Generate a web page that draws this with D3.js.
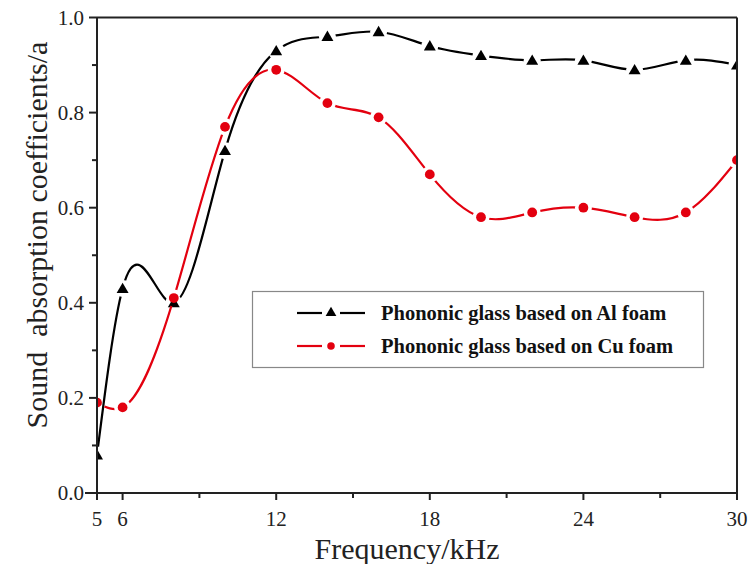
<!DOCTYPE html>
<html>
<head>
<meta charset="utf-8">
<script src="https://cdn.jsdelivr.net/npm/d3@7"></script>
<style>
body { margin: 0; background: #fff; }
svg text { font-family: "Liberation Serif", "Times New Roman", serif; }
</style>
</head>
<body>
<div id="chart"></div>
<script>
var width = 750;
var height = 564;

// data
var freqs = [5, 6, 8, 10, 12, 14, 16, 18, 20, 22, 24, 26, 28, 30];
var alFoam = [0.08, 0.43, 0.40, 0.72, 0.93, 0.96, 0.97, 0.94, 0.92, 0.91, 0.91, 0.89, 0.91, 0.90];
var cuFoam = [0.19, 0.18, 0.41, 0.77, 0.89, 0.82, 0.79, 0.67, 0.58, 0.59, 0.60, 0.58, 0.59, 0.70];
var xTicks = [5, 6, 12, 18, 24, 30];
var xMinor = [9, 15, 21, 27];
var yTicks = [0, 0.2, 0.4, 0.6, 0.8, 1.0];
var yMinor = [0.1, 0.3, 0.5, 0.7, 0.9];
var seriesNames = ["Phononic glass based on Al foam", "Phononic glass based on Cu foam"];

// plot box (window.top is reserved, so no plain "top")
var pL = 97, pR = 737, pT = 17.5, pB = 493;

var x = d3.scaleLinear().domain([5, 30]).range([pL, pR]);
var y = d3.scaleLinear().domain([0, 1]).range([pB, pT]);

// natural cubic spline in x (like Origin's spline connect), as a d3 curve
function curveSplineX(context) {
    var xs, ys;
    return {
        areaStart: function() {},
        areaEnd: function() {},
        lineStart: function() { xs = []; ys = []; },
        point: function(px, py) { xs.push(+px); ys.push(+py); },
        lineEnd: function() {
            var n = xs.length;
            if (!n) return;
            context.moveTo(xs[0], ys[0]);
            if (n < 3) { if (n == 2) context.lineTo(xs[1], ys[1]); return; }
            var h = [], i;
            for (i = 0; i < n - 1; i++) h.push(xs[i + 1] - xs[i]);
            // tridiagonal solve for second derivatives, M0 = Mn = 0
            var a = [], b = [], c = [], r = [];
            for (i = 1; i < n - 1; i++) {
                a.push(h[i - 1]);
                b.push(2 * (h[i - 1] + h[i]));
                c.push(h[i]);
                r.push(6 * ((ys[i + 1] - ys[i]) / h[i] - (ys[i] - ys[i - 1]) / h[i - 1]));
            }
            var m = r.length;
            for (i = 1; i < m; i++) {
                var w = a[i] / b[i - 1];
                b[i] -= w * c[i - 1];
                r[i] -= w * r[i - 1];
            }
            var M = new Array(n).fill(0);
            M[m] = r[m - 1] / b[m - 1];
            for (i = m - 2; i >= 0; i--) M[i + 1] = (r[i] - c[i] * M[i + 2]) / b[i];
            for (i = 0; i < n - 1; i++) {
                var s = (ys[i + 1] - ys[i]) / h[i];
                var d0 = s - h[i] * (2 * M[i] + M[i + 1]) / 6;
                var d1 = s + h[i] * (M[i] + 2 * M[i + 1]) / 6;
                context.bezierCurveTo(
                    xs[i] + h[i] / 3, ys[i] + d0 * h[i] / 3,
                    xs[i + 1] - h[i] / 3, ys[i + 1] - d1 * h[i] / 3,
                    xs[i + 1], ys[i + 1]);
            }
        }
    };
}

var svg = d3.select("#chart").append("svg").attr("width", width).attr("height", height);
var defs = svg.append("defs");

defs.append("clipPath").attr("id", "plotClip")
    .append("rect").attr("x", pL).attr("y", pT).attr("width", pR - pL).attr("height", pB - pT);

var series = [
    { name: seriesNames[0], values: alFoam, color: "#000", shape: "triangle" },
    { name: seriesNames[1], values: cuFoam, color: "#e3000f", shape: "circle" }
];

function markerPath(shape, size) {
    if (shape == "triangle") return d3.symbol().type(d3.symbolTriangle).size(size || 62)();
    return d3.symbol().type(d3.symbolCircle).size(size || 75)();
}

var line = d3.line()
    .x(function(d) { return x(d.f); })
    .y(function(d) { return y(d.v); })
    .curve(curveSplineX);

var plot = svg.append("g").attr("clip-path", "url(#plotClip)");

series.forEach(function(s, si) {
    var pts = freqs.map(function(f, i) { return { f: f, v: s.values[i] }; });

    // gaps in the line around markers
    var mask = defs.append("mask").attr("id", "gap" + si).attr("maskUnits", "userSpaceOnUse")
        .attr("x", 0).attr("y", 0).attr("width", width).attr("height", height);
    mask.append("rect").attr("width", width).attr("height", height).attr("fill", "#fff");
    mask.selectAll("circle").data(pts).enter().append("circle")
        .attr("cx", function(d) { return x(d.f); })
        .attr("cy", function(d) { return y(d.v); })
        .attr("r", 8.5)
        .attr("fill", "#000");

    plot.append("path")
        .datum(pts)
        .attr("d", line)
        .attr("fill", "none")
        .attr("stroke", s.color)
        .attr("stroke-width", 2.2)
        .attr("mask", "url(#gap" + si + ")");

    plot.selectAll(".m" + si).data(pts).enter().append("path")
        .attr("class", "m" + si)
        .attr("d", markerPath(s.shape))
        .attr("transform", function(d) { return "translate(" + x(d.f) + "," + (y(d.v) + (s.shape == "triangle" ? 1 : 0)) + ")"; })
        .attr("fill", s.color);
});

// frame
svg.append("line").attr("x1", pL).attr("x2", pR).attr("y1", pT).attr("y2", pT)
    .attr("stroke", "#222").attr("stroke-width", 2);
svg.append("line").attr("x1", pR).attr("x2", pR).attr("y1", pT).attr("y2", pB)
    .attr("stroke", "#222").attr("stroke-width", 2);

// x axis
var xAxis = svg.append("g").attr("transform", "translate(0," + pB + ")");
xAxis.append("line").attr("x1", pL - 12).attr("x2", pR + 1).attr("stroke", "#222").attr("stroke-width", 2);
xAxis.selectAll(".xt").data(xTicks).enter().append("line")
    .attr("x1", function(d) { return x(d); }).attr("x2", function(d) { return x(d); })
    .attr("y1", 0).attr("y2", 7).attr("stroke", "#222").attr("stroke-width", 2);
xAxis.selectAll(".xm").data(xMinor).enter().append("line")
    .attr("x1", function(d) { return x(d); }).attr("x2", function(d) { return x(d); })
    .attr("y1", 0).attr("y2", 5).attr("stroke", "#222").attr("stroke-width", 2);
xAxis.selectAll("text").data(xTicks).enter().append("text")
    .attr("x", function(d) { return x(d); })
    .attr("y", 33)
    .attr("text-anchor", "middle")
    .attr("font-size", 21)
    .attr("fill", "#222")
    .text(function(d) { return d; });

// y axis
var yAxis = svg.append("g").attr("transform", "translate(" + pL + ",0)");
yAxis.append("line").attr("y1", pT).attr("y2", pB).attr("stroke", "#222").attr("stroke-width", 2);
yAxis.selectAll(".yt").data(yTicks).enter().append("line")
    .attr("y1", function(d) { return y(d); }).attr("y2", function(d) { return y(d); })
    .attr("x1", -8).attr("x2", 0).attr("stroke", "#222").attr("stroke-width", 2);
yAxis.selectAll(".ym").data(yMinor).enter().append("line")
    .attr("y1", function(d) { return y(d); }).attr("y2", function(d) { return y(d); })
    .attr("x1", -5).attr("x2", 0).attr("stroke", "#222").attr("stroke-width", 2);
yAxis.selectAll("text").data(yTicks).enter().append("text")
    .attr("x", -13)
    .attr("y", function(d) { return y(d); })
    .attr("dy", "0.35em")
    .attr("text-anchor", "end")
    .attr("font-size", 21)
    .attr("fill", "#222")
    .text(function(d) { return d3.format(".1f")(d); });

// axis titles
svg.append("text")
    .attr("x", 407)
    .attr("y", 559)
    .attr("text-anchor", "middle")
    .attr("font-size", 30)
    .attr("fill", "#222")
    .text("Frequency/kHz");

svg.append("text")
    .attr("transform", "translate(47,235) rotate(-90)")
    .attr("text-anchor", "middle")
    .attr("font-size", 30)
    .attr("fill", "#222")
    .attr("xml:space", "preserve")
    .style("white-space", "pre")
    .text("Sound  absorption coefficients/a");

// legend
var legend = svg.append("g");
legend.append("rect")
    .attr("x", 252.5).attr("y", 291.5).attr("width", 451).attr("height", 76)
    .attr("fill", "#fff").attr("stroke", "#888").attr("stroke-width", 1.2);

series.forEach(function(s, i) {
    var ly = 313 + i * 33;
    legend.append("line").attr("x1", 297).attr("x2", 322).attr("y1", ly).attr("y2", ly)
        .attr("stroke", s.color).attr("stroke-width", 2.2);
    legend.append("line").attr("x1", 340).attr("x2", 365).attr("y1", ly).attr("y2", ly)
        .attr("stroke", s.color).attr("stroke-width", 2.2);
    legend.append("path")
        .attr("d", markerPath(s.shape, s.shape == "triangle" ? 50 : 45))
        .attr("transform", "translate(331," + ly + ")")
        .attr("fill", s.color);
    legend.append("text")
        .attr("x", 381)
        .attr("y", ly)
        .attr("dy", "0.35em")
        .attr("font-size", 20.5)
        .attr("font-weight", "bold")
        .attr("fill", "#111")
        .text(s.name);
});
</script>
</body>
</html>
